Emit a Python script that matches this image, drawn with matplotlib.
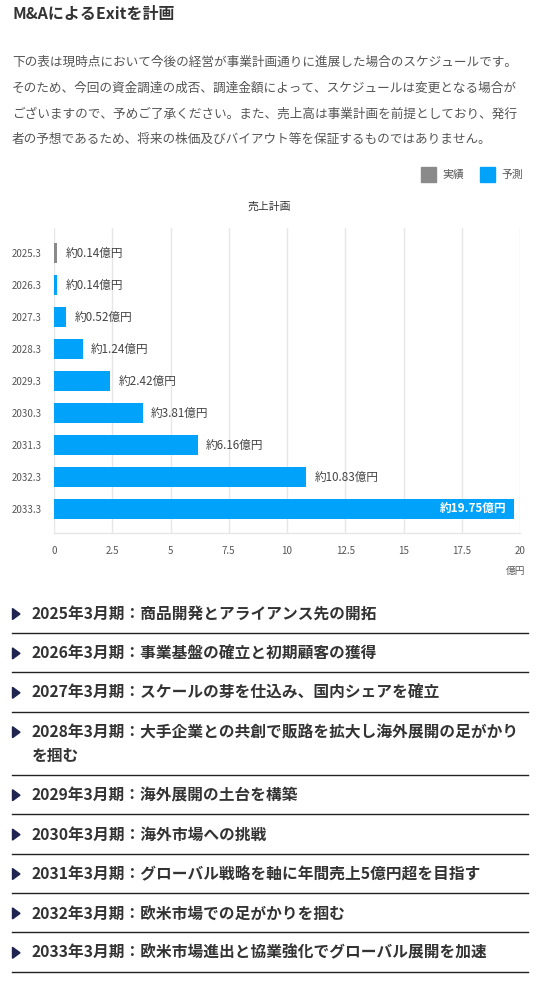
import matplotlib
matplotlib.use("Agg")
import matplotlib.pyplot as plt
from matplotlib.patches import Rectangle, Polygon
from matplotlib.lines import Line2D

plt.rcParams['font.family'] = ['Noto Sans CJK JP', 'DejaVu Sans']

# ---- data ----
categories = ["2025.3", "2026.3", "2027.3", "2028.3", "2029.3", "2030.3", "2031.3", "2032.3", "2033.3"]
values = [0.14, 0.14, 0.52, 1.24, 2.42, 3.81, 6.16, 10.83, 19.75]
kinds = ["実績", "予測", "予測", "予測", "予測", "予測", "予測", "予測", "予測"]
x_ticks = [0, 2.5, 5, 7.5, 10, 12.5, 15, 17.5, 20]
x_tick_labels = ["0", "2.5", "5", "7.5", "10", "12.5", "15", "17.5", "20"]
legend_labels = ["実績", "予測"]

title = "M&AによるExitを計画"
paragraph = [
    "下の表は現時点において今後の経営が事業計画通りに進展した場合のスケジュールです。",
    "そのため、今回の資金調達の成否、調達金額によって、スケジュールは変更となる場合が",
    "ございますので、予めご了承ください。また、売上高は事業計画を前提としており、発行",
    "者の予想であるため、将来の株価及びバイアウト等を保証するものではありません。",
]
chart_title = "売上計画"
unit_label = "億円"
milestones = [
    ["2025年3月期：商品開発とアライアンス先の開拓"],
    ["2026年3月期：事業基盤の確立と初期顧客の獲得"],
    ["2027年3月期：スケールの芽を仕込み、国内シェアを確立"],
    ["2028年3月期：大手企業との共創で販路を拡大し海外展開の足がかり", "を掴む"],
    ["2029年3月期：海外展開の土台を構築"],
    ["2030年3月期：海外市場への挑戦"],
    ["2031年3月期：グローバル戦略を軸に年間売上5億円超を目指す"],
    ["2032年3月期：欧米市場での足がかりを掴む"],
    ["2033年3月期：欧米市場進出と協業強化でグローバル展開を加速"],
]

colors = {"実績": "#8a8a8a", "予測": "#00a2fa"}

W, H = 548, 981
fig = plt.figure(figsize=(W / 100, H / 100), dpi=100)
fig.patch.set_facecolor("white")

def fx(x):
    return x / W

def fy(y):
    return 1 - y / H

# ---- header texts ----
fig.text(fx(12), fy(14), title, fontsize=11.5, fontweight="bold", color="#333333",
         ha="left", va="center")
for i, line in enumerate(paragraph):
    fig.text(fx(12), fy(62 + 26 * i), line, fontsize=9.1, color="#555555",
             ha="left", va="center")

# legend
leg_x = [421, 480]
for lx, lab in zip(leg_x, legend_labels):
    fig.patches.append(Rectangle((fx(lx), fy(182)), fx(15), 15 / H,
                                 transform=fig.transFigure, color=colors[lab]))
    fig.text(fx(lx + 21), fy(175), lab, fontsize=7.8, color="#555555",
             ha="left", va="center")

fig.text(fx(269), fy(207), chart_title, fontsize=7.8, color="#333333",
         ha="center", va="center")

# ---- chart ----
ax_l, ax_r, ax_t, ax_b = 54, 520, 228, 533
ax = fig.add_axes([fx(ax_l), fy(ax_b), (ax_r - ax_l) / W, (ax_b - ax_t) / H])
ypos = list(range(len(categories)))
bar_colors = [colors[k] for k in kinds]
ax.barh(ypos, values, height=0.6, color=bar_colors, zorder=3)
ax.set_xlim(0, 20)
ax.set_ylim(8.75, -0.78)
ax.set_xticks(x_ticks)
ax.set_xticklabels(x_tick_labels)
ax.set_yticks(ypos)
ax.set_yticklabels(categories)
ax.tick_params(axis="both", length=0, labelsize=7, colors="#555555")
ax.tick_params(axis="x", pad=9)
ax.tick_params(axis="y", pad=9)
ax.grid(axis="x", color="#e6e6e6", linewidth=1, zorder=0)
for s in ["top", "left", "right"]:
    ax.spines[s].set_visible(False)
ax.spines["bottom"].set_color("#e6e6e6")
ax.spines["bottom"].set_linewidth(1)
ax.set_facecolor("white")

for y, v in zip(ypos, values):
    label = f"約{v:.2f}億円"
    if v > 15:
        ax.annotate(label, (v, y), xytext=(-6, 0), textcoords="offset points",
                    ha="right", va="center", fontsize=8.4, color="white",
                    fontweight="bold", zorder=4)
    else:
        ax.annotate(label, (v, y), xytext=(6, 0), textcoords="offset points",
                    ha="left", va="center", fontsize=8.4, color="#444444", zorder=4)

fig.text(fx(516), fy(571), unit_label, fontsize=7, color="#555555",
         ha="center", va="center")

# ---- milestone list ----
y = 614
for item in milestones:
    tri = Polygon([(fx(12.5), fy(y - 5.5)), (fx(20), fy(y)), (fx(12.5), fy(y + 5.5))],
                  closed=True, transform=fig.transFigure, color="#1f2450")
    fig.patches.append(tri)
    for j, line in enumerate(item):
        fig.text(fx(32), fy(y + 23.6 * j), line, fontsize=11.3, fontweight="bold",
                 color="#333333", ha="left", va="center")
    line_y = y + 23.6 * (len(item) - 1) + 19
    fig.add_artist(Line2D([fx(12), fx(528)], [fy(line_y), fy(line_y)],
                          transform=fig.transFigure, color="#222222", linewidth=1))
    y = line_y + 20.4

fig.savefig("out.png", dpi=100)
